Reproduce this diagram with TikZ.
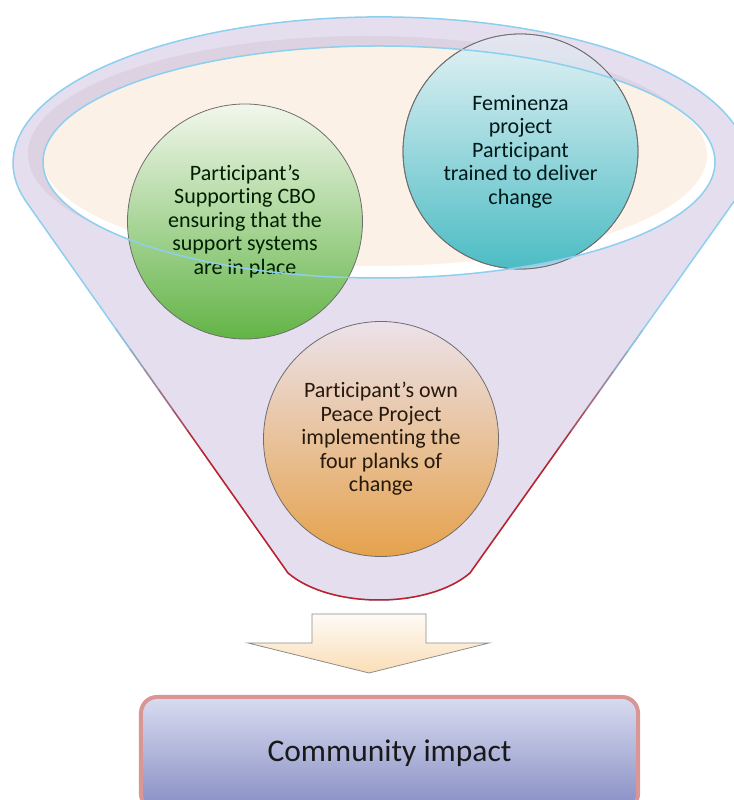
\documentclass[tikz,border=0pt]{standalone}
\usepackage{fontspec}
\setmainfont[Ligatures=NoCommon]{Carlito}
\usetikzlibrary{calc}

\definecolor{funnelfill}{RGB}{229,222,238}
\definecolor{rimshade}{RGB}{221,210,225}
\definecolor{cream}{RGB}{252,241,231}
\definecolor{rimblue}{RGB}{141,207,238}
\definecolor{rimred}{RGB}{196,30,40}
\definecolor{ringgray}{RGB}{110,110,110}
\definecolor{greentop}{RGB}{242,247,236}
\definecolor{greenmid}{RGB}{180,215,148}
\definecolor{greenbot}{RGB}{98,180,70}
\definecolor{tealtop}{RGB}{228,242,245}
\definecolor{tealmid}{RGB}{150,212,218}
\definecolor{tealbot}{RGB}{76,188,196}
\definecolor{orangetop}{RGB}{236,226,234}
\definecolor{orangemid}{RGB}{236,196,160}
\definecolor{orangebot}{RGB}{229,162,76}
\definecolor{arrowtop}{RGB}{254,251,246}
\definecolor{arrowbot}{RGB}{251,221,182}
\definecolor{boxtop}{RGB}{216,220,240}
\definecolor{boxmid}{RGB}{208,212,236}
\definecolor{boxbot}{RGB}{135,141,196}
\definecolor{boxrim}{RGB}{217,150,148}

\tikzset{
  bubble/.style={circle, minimum size=235bp, inner sep=0pt, outer sep=0pt,
    draw=ringgray, line width=0.8bp, align=center,
    font=\fontsize{22bp}{23.5bp}\selectfont},
  rim/.style={line width=1.5bp, line cap=round, line join=round},
  impactbox/.style={rectangle, rounded corners=16bp, minimum width=497bp,
    minimum height=113bp, inner sep=0pt, draw=boxrim, line width=4bp,
    top color=boxtop, middle color=boxmid, bottom color=boxbot,
    font=\fontsize{31.5bp}{36bp}\selectfont, text=black!90},
  blockarrow/.style={draw=black!45, line width=0.8bp, line join=miter,
    top color=arrowtop, bottom color=arrowbot}
}

\begin{document}
\begin{tikzpicture}[x=1bp, y=1bp]
\useasboundingbox (0,0) rectangle (734,800);

% funnel corners: tangent points on the rim and the two bottom corners
\coordinate (LT) at (27.2,596.8);
\coordinate (LB) at (288,227);
\coordinate (RB) at (470,227);
\coordinate (RT) at (732.8,596.8);

% funnel body
\fill[funnelfill] (LT) -- (LB) .. controls (330,191) and (428,191) .. (RB)
  -- (RT) arc[start angle=-16, end angle=196, x radius=367, y radius=146] -- cycle;

% shadow band inside the rim, strongest at the upper left
\fill[rimshade] (366,646) ellipse[x radius=338, y radius=118];

% inner opening
\fill[white] (379,638) ellipse[x radius=336, y radius=116];
\begin{scope}
  \clip (379,638) ellipse[x radius=336, y radius=116];
  \fill[cream] (374,645) ellipse[x radius=333, y radius=111];
\end{scope}

% funnel outline, light blue at the top
\draw[rim, rimblue] (LT) -- (LB) .. controls (330,191) and (428,191) .. (RB)
  -- (RT) arc[start angle=-16, end angle=196, x radius=367, y radius=146];

% colour change from blue to red down the sides
\foreach \a/\b/\p in {0.34/0.395/8, 0.395/0.45/25, 0.45/0.505/42,
                      0.505/0.56/58, 0.56/0.615/75, 0.615/0.67/92}
  \draw[rim, rimred!\p!rimblue] ($(LT)!\a!(LB)$) -- ($(LT)!\b!(LB)$);
\foreach \a/\b/\p in {0.33/0.384/92, 0.384/0.438/75, 0.438/0.492/58,
                      0.492/0.546/42, 0.546/0.6/25, 0.6/0.655/8}
  \draw[rim, rimred!\p!rimblue] ($(RB)!\a!(RT)$) -- ($(RB)!\b!(RT)$);
\draw[rim, rimred] ($(LT)!0.67!(LB)$) -- (LB)
  .. controls (330,191) and (428,191) .. (RB) -- ($(RB)!0.33!(RT)$);

% the three circles
\node[bubble, top color=greentop, middle color=greenmid, bottom color=greenbot,
      text=black!80!green!60!black] (cbo) at (245,578.5)
  {Participant’s\\Supporting CBO\\ensuring that the\\support systems\\are in place};

\node[bubble, top color=tealtop, middle color=tealmid, bottom color=tealbot,
      text=black!80!teal] (fem) at (520.5,648.5)
  {Feminenza\\project\\Participant\\trained to deliver\\change};

% part of the blue circle lying on the rim takes on its tint
\begin{scope}
  \clip (520.5,648.5) circle[radius=117.5];
  \fill[funnelfill, opacity=0.6, even odd rule]
    (380,637) ellipse[x radius=367, y radius=146]
    (379,638) ellipse[x radius=336, y radius=116];
\end{scope}
\draw[ringgray, line width=0.8bp] (fem.center) circle[radius=117.5];

\node[bubble, top color=orangetop, middle color=orangemid, bottom color=orangebot,
      text=black!80!brown] (peace) at (381,361)
  {Participant’s own\\Peace Project\\implementing the\\four planks of\\change};

% rim of the opening passes over the circles
\draw[rim, rimblue] (379,638) ellipse[x radius=336, y radius=116];

% outcome box
\node[impactbox] (impact) at (389.5,46.5) {\raisebox{3.5bp}{Community impact}};

% block arrow from the funnel to the outcome
\coordinate (tip) at (369,127);
\path[blockarrow] (312,186) -- (426,186) -- (426,157) -- (489,157)
  -- (tip) -- (248,157) -- (312,157) -- cycle;

\end{tikzpicture}
\end{document}
